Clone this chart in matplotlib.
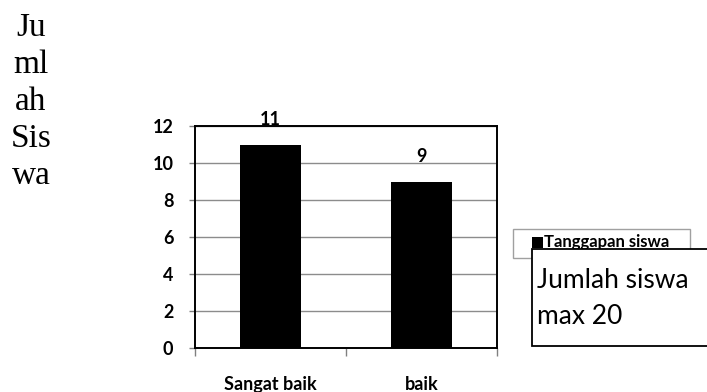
import matplotlib.pyplot as plt
from matplotlib.font_manager import FontProperties
from matplotlib.patches import Rectangle

# Survey data: student responses
categories = ["Sangat baik", "baik"]
counts = [11, 9]
series_name = "Tanggapan siswa"
y_ticks = [0, 2, 4, 6, 8, 10, 12]

W, H = 707, 392
bold13 = FontProperties(family="Lato", weight="bold", size=13)


def px(x0, y0):
    # pixel position (from top-left) -> figure fraction
    return x0 / W, 1 - y0 / H


fig = plt.figure(figsize=(W / 100, H / 100), dpi=100)
ax = fig.add_axes([195 / W, 1 - 348 / H, 302 / W, 222 / H])

x = list(range(len(categories)))
bars = ax.bar(x, counts, width=0.41, color="black", label=series_name, zorder=3)
ax.bar_label(bars, padding=12, fontproperties=bold13, clip_on=False)

ax.set_xlim(-0.5, len(categories) - 0.5)
ax.set_ylim(0, 12)
ax.set_yticks(y_ticks)
ax.set_yticklabels([str(v) for v in y_ticks], fontproperties=bold13)
ax.tick_params(axis="y", length=4.5, width=1, color="#808080", pad=11)

# category labels with no tick marks, boundary ticks below the axis
ax.set_xticks(x)
ax.set_xticklabels(categories, fontproperties=bold13)
ax.tick_params(axis="x", which="major", length=0, pad=20)
ax.set_xticks([-0.5, 0.5, 1.5], minor=True)
ax.tick_params(axis="x", which="minor", length=6, width=1, color="#808080")

ax.grid(axis="y", color="#8c8c8c", linewidth=1, zorder=0)
for side in ["left", "right", "top", "bottom"]:
    ax.spines[side].set_color("black")
    ax.spines[side].set_linewidth(1.4)
    ax.spines[side].set_zorder(4)

# vertical y-axis title, broken over several lines
fig.text(*px(31, 102), "Ju\nml\nah\nSis\nwa", ha="center", va="center",
         multialignment="center", fontsize=24, family="Liberation Serif", linespacing=1.28)

# legend: frame, swatch in the bar colour, series name
lx, ly = px(513, 258)
fig.add_artist(Rectangle((lx, ly), 177 / W, 29 / H, transform=fig.transFigure,
                         facecolor="white", edgecolor="#a0a0a0", linewidth=1, zorder=5))
sx, sy = px(532, 248)
fig.add_artist(Rectangle((sx, sy), 11 / W, 11 / H, transform=fig.transFigure,
                         facecolor=bars.patches[0].get_facecolor(), edgecolor="none", zorder=5))
fig.text(*px(544, 242), series_name, ha="left", va="center",
         fontproperties=FontProperties(family="Lato", weight="bold", size=12), zorder=5)

# note box overlapping the legend
bx, by = px(532, 346)
fig.add_artist(Rectangle((bx, by), 200 / W, 97 / H, transform=fig.transFigure,
                         facecolor="white", edgecolor="black", linewidth=1.3, zorder=6))
fig.text(*px(537, 281), "Jumlah siswa", ha="left", va="center",
         fontsize=19, family="Lato", zorder=7)
fig.text(*px(537, 317), "max 20", ha="left", va="center",
         fontsize=19, family="Lato", zorder=7)

fig.savefig("out.png", dpi=100)
